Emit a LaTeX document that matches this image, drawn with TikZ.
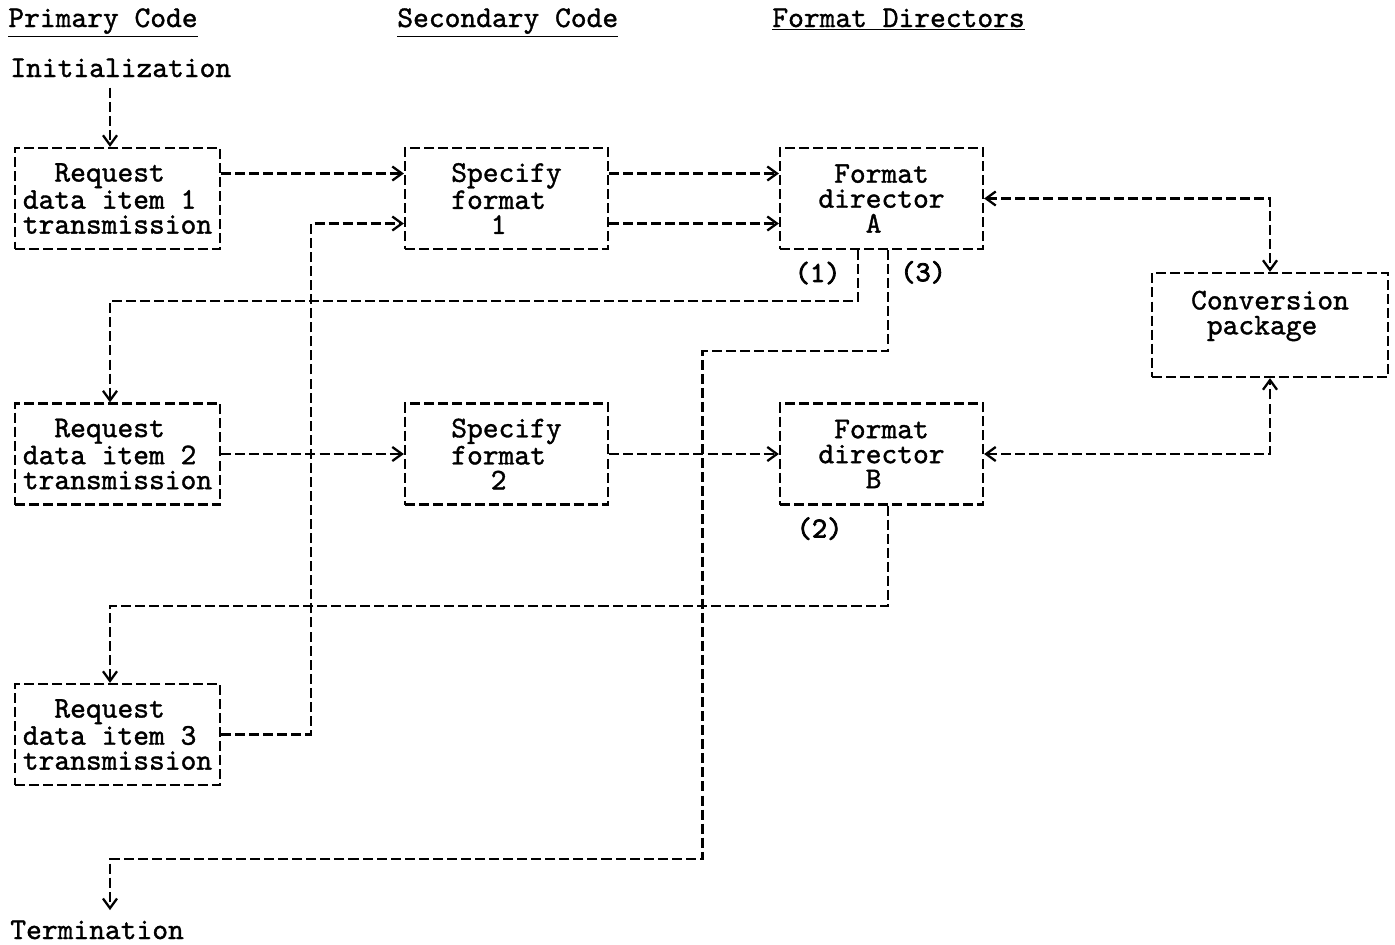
\documentclass[tikz,border=0pt]{standalone}
\usepackage{fontspec}
\usepackage{tikz}
\usetikzlibrary{arrows.meta,positioning,calc}
\newfontfamily\typerfont{lmmono10-regular.otf}[FakeBold=1.2]
\newfontfamily\tagfont{lmmono10-regular.otf}[FakeBold=2.6]
\tikzset{
  dline/.style={line width=1.3pt,dash pattern=on 5.7pt off 2.3pt},
  box/.style={draw,dline,minimum width=4.1cm,minimum height=2.02cm,align=center,inner sep=2pt},
  flow/.style={dline,-{Straight Barb[length=5.5pt,width=8pt]}},
  twoway/.style={dline,{Straight Barb[length=5.5pt,width=8pt]}-{Straight Barb[length=5.5pt,width=8pt]}},
  endnote/.style={inner sep=0pt,outer ysep=6pt,anchor=base west},
  heading/.style={inner sep=0pt,anchor=base west},
  numtag/.style={font=\fontsize{16.5}{14.2}\selectfont\tagfont}
}
\begin{document}
\begin{tikzpicture}[x=0.02cm,y=-0.02cm,font=\fontsize{17.1}{14.2}\selectfont\typerfont]
  \useasboundingbox (0,0) rectangle (1395,944);

  % column headings
  \node[heading] (hprim) at (8,27) {\underline{Primary Code}};
  \node[heading] (hsec) at (397,27) {\underline{Secondary Code}};
  \node[heading] (hfmt) at (772,27) {\underline{Format Directors}};

  \node[endnote] (init) at (10,77) {Initialization};
  \node[endnote] (term) at (10,939) {Termination};
  \coordinate (lane) at (110,0);

  \node[box] (r1) at (117.5,198.5) {Request\hphantom{x}\\data item 1\hphantom{x}\\transmission};
  \node[box] (r2) at (117.5,454) {Request\hphantom{x}\\data item 2\hphantom{x}\\transmission};
  \node[box] (r3) at (117.5,734.5) {Request\hphantom{x}\\data item 3\hphantom{x}\\transmission};
  \node[box,minimum width=4.06cm] (s1) at (506.5,198.5) {Specify\\format\hphantom{x}\\1\hphantom{x}};
  \node[box,minimum width=4.06cm] (s2) at (506.5,454) {Specify\\format\hphantom{x}\\2\hphantom{x}};
  \node[box,minimum width=4.06cm] (fa) at (881.5,198.5) {Format\\director\\A\hphantom{x}};
  \node[box,minimum width=4.06cm] (fb) at (881.5,454) {Format\\director\\B\hphantom{x}};
  \node[box,minimum width=4.72cm,minimum height=2.08cm] (cv) at (1270,325) {Conversion\\package\hphantom{x}\\\hphantom{x}};

  \draw[flow] (lane |- init.south) -- (lane |- r1.north);
  \draw[flow] ($(r1.east)+(0,-25)$) -- ($(s1.west)+(0,-25)$);
  \draw[flow] ($(s1.east)+(0,-25)$) -- ($(fa.west)+(0,-25)$);
  \draw[flow] ($(s1.east)+(0,25)$) -- ($(fa.west)+(0,25)$);
  \draw[flow] (r3.east) -| ($(s1.west)+(-93,25)$) -- ($(s1.west)+(0,25)$);
  \draw[flow] (r2.east) -- (s2.west);
  \draw[flow] (s2.east) -- (fb.west);
  \draw[twoway] (fa.east) -| (cv.north);
  \draw[twoway] (fb.east) -| (cv.south);

  % returns from the format directors
  \draw[flow] ($(fa.south)+(-23.5,0)$) -- ++(0,51)
    node[numtag,pos=0.45,left=6pt] (n1) {(1)} -| (lane |- r2.north);
  \draw[flow] ($(fa.south)+(6.5,0)$) -- ++(0,101)
    node[numtag,pos=0.22,right=3pt] (n3) {(3)}
    -- ++(-185.5,0) -- ++(0,508) -| (lane |- term.north);
  \draw[flow] ($(fb.south)+(6.5,0)$) -- ++(0,100)
    node[numtag,pos=0.23,left=22pt] (n2) {(2)} -| (lane |- r3.north);
\end{tikzpicture}
\end{document}
